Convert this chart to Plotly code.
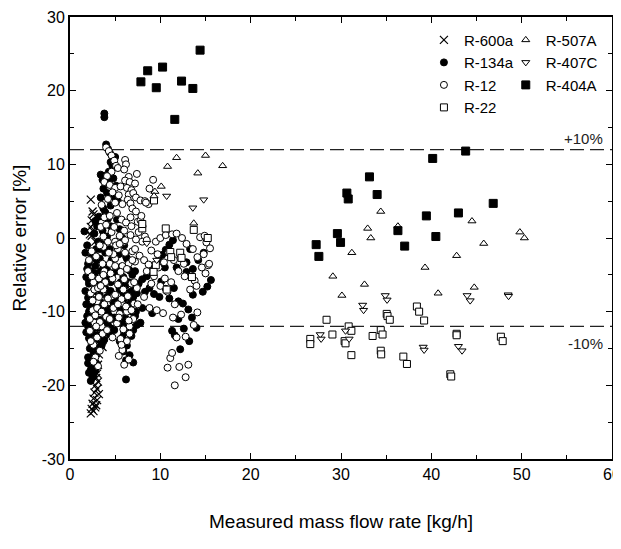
import plotly.graph_objects as go

# ---------------- data ----------------
r600a_x = [2.3, 2.5, 2.6, 2.4, 2.7, 2.3, 2.5, 2.2, 2.4, 2.8, 2.5, 2.3, 2.6, 2.9, 2.7, 3.0, 2.8, 3.1, 2.9, 3.2,
           3.3, 3.0, 3.2, 2.9, 3.1, 2.8, 3.0, 2.9, 3.1, 2.8, 3.0, 2.7, 3.2, 2.6, 3.0, 2.5, 2.9, 2.4, 2.8, 2.3,
           2.6, 3.3, 3.5, 3.6]
r600a_y = [5.2, 3.6, 3.2, 2.4, 2.0, 1.5, 1.0, 0.5, 0.3, -0.5, -2.0, -3.5, -5.0, -6.0, -7.5, -9.0, -10.5, -11.5, -12.5, -13.5,
           -14.3, -15.0, -15.8, -16.5, -17.2, -17.8, -18.4, -19.0, -19.5, -20.0, -20.5, -21.0, -21.2, -21.8, -22.0, -22.5, -22.7, -23.2, -23.0, -23.8,
           -23.5, -12.0, -13.8, -14.8]

r134a_x = [1.6, 1.9, 2.0, 1.8, 2.1, 1.7, 2.0, 1.8, 2.2, 1.9, 2.3, 2.0, 2.4, 2.1, 2.5, 2.2, 2.6, 2.3, 2.0, 2.4,
           2.1, 2.5, 2.3, 2.7, 2.8, 2.9, 2.6, 2.9, 2.7, 3.0, 2.6, 2.9, 2.5, 2.8, 2.4, 2.9, 3.1, 2.7, 3.0, 2.8,
           3.2, 3.3, 3.4, 3.2, 3.5, 3.3, 3.6, 3.8, 3.5, 2.3, 2.2, 1.7,
           3.8, 3.8, 4.0, 4.2, 4.4, 5.0, 4.5, 4.7, 4.3, 3.4, 3.6, 4.8, 5.1, 3.7, 4.1, 4.9, 5.3, 4.5, 3.9, 4.2,
           4.5, 3.6, 4.1, 3.5, 4.4, 3.9, 4.6, 4.0, 4.7, 4.2, 3.8, 4.5, 4.1, 4.8, 4.3, 3.9, 4.6, 4.2, 4.9, 4.4,
           5.2, 5.5, 5.8, 6.0, 5.4, 6.3, 5.7, 6.6, 5.9, 6.9, 6.2, 5.5, 6.7, 6.0, 7.0, 6.4, 5.6, 6.8, 6.1, 7.2,
           5.8, 6.5, 7.4, 6.0, 6.8, 5.5, 6.3, 5.9, 6.6, 6.2, 7.0, 6.2, 7.3, 6.5, 7.2,
           7.6, 8.0, 8.5, 9.0, 9.4, 9.8, 10.2, 10.6, 11.0, 11.4, 8.3, 8.8, 9.3, 9.9, 10.1, 10.6, 11.0, 11.5, 12.0, 12.5,
           13.1, 12.9, 13.6, 12.9, 13.6, 14.7, 15.2, 15.6, 14.2, 14.8, 13.3, 12.2, 13.2, 14.0, 12.6, 11.3, 11.6, 12.0, 13.5, 8.0,
           7.8, 11.8, 12.3, 10.5, 9.1,
           1.7, 1.9, 2.1, 2.3, 2.5, 2.7, 2.2, 2.4, 2.6, 2.8, 3.0, 3.2, 3.4, 2.0, 2.3, 2.6, 2.9, 3.1, 3.3, 3.5,
           1.8, 2.1, 2.4, 2.7, 3.0, 3.3, 3.6, 3.9, 4.2, 4.5, 4.8, 5.1, 5.4, 3.7, 4.0, 4.3, 4.6, 4.9, 5.2, 5.5,
           5.8, 6.1, 6.4, 6.7, 7.0, 5.3, 5.6, 5.9, 6.2, 6.5, 6.8, 7.1, 7.4, 3.4, 3.7, 4.0, 4.3]
r134a_y = [0.9, -1.0, -3.5, -5.3, -6.2, -7.2, -8.1, -9.0, -9.8, -10.6, -11.2, -12.0, -12.8, -13.6, -14.3, -15.0, -15.7, -16.4, -17.0, -17.6,
           -18.3, -18.9, -19.4, -16.0, -14.8, -13.2, -12.0, -10.8, -9.5, -8.3, -7.2, -6.0, -5.0, -3.8, -2.6, -1.5, -0.5, 0.6, 1.6, 2.3,
           2.9, -2.8, -4.5, -6.8, -8.8, -11.0, -12.5, -13.8, -14.6, -4.5, -7.9, -11.5,
           16.9, 16.4, 12.7, 12.1, 11.6, 11.0, 10.3, 9.8, 9.0, 8.6, 7.9, 8.1, 7.1, 6.7, 6.1, 5.6, 5.0, 4.4, 3.5, 2.6,
           1.6, 1.0, 0.2, -0.8, -1.5, -2.0, -3.0, -3.8, -4.8, -5.6, -6.5, -7.2, -8.0, -8.8, -9.6, -10.3, -11.0, -11.8, -12.5, -13.1,
           2.5, 1.2, 0.0, -1.0, -2.2, -2.8, -3.9, -4.4, -5.3, -5.0, -6.4, -7.0, -7.3, -8.2, -8.0, -9.1, -9.7, -10.0, -10.8, -10.6,
           -11.6, -12.1, -11.8, -12.9, -13.3, -14.0, -14.6, -15.4, -15.9, -16.6, -16.9, -19.2, -10.0, -6.0, -4.5,
           -6.2, -5.6, -5.2, -4.6, -3.9, -3.0, -2.3, -1.6, -0.9, -0.3, -7.3, -6.8, -7.6, -8.0, -5.9, -6.9, -8.2, -6.8, -8.6, -8.9,
           -9.7, -4.6, -4.2, -3.3, -7.7, -7.3, -6.6, -5.7, -3.0, -2.0, -1.5, -15.1, -14.0, -12.2, -12.3, -12.6, -13.2, -11.0, -10.8, -9.5,
           -11.5, -4.0, -2.5, -4.0, -10.2,
           -2.0, -4.2, -5.8, -8.5, -10.2, -11.8, -13.0, -14.5, -17.2, -18.0, -15.5, -13.8, -9.8, -16.2, -17.9, -18.6, -17.0, -12.2, -7.8, -5.5,
           -12.8, -10.0, -9.0, -4.8, -3.0, -1.5, -9.5, -11.2, -4.5, -6.0, -2.5, -4.0, -6.5, -4.0, -7.0, -10.5, -12.3, -10.8, -8.5, -11.2,
           -13.5, -8.0, -11.5, -9.0, -12.5, -4.5, -6.0, -7.5, -2.5, -3.0, -8.5, -6.8, -7.5, 5.5, 4.0, 8.5, 7.8]

r12_x = [4.0, 4.3, 4.6, 4.9, 5.1, 5.3, 4.6, 4.1, 3.8, 4.4, 5.0, 5.6, 4.7, 5.4, 4.2, 5.0, 5.8, 6.1, 6.2, 6.0,
         6.5, 6.1, 6.6, 7.2, 7.4, 6.3, 6.8, 6.5, 7.0, 6.4, 6.7, 6.9, 7.3, 7.8, 8.3, 8.7, 8.8, 9.2, 8.4,
         3.5, 3.8, 4.4, 5.2, 5.7, 6.2, 6.8, 7.5, 7.8, 8.0, 7.6, 8.3, 8.0, 7.3, 6.7, 6.0, 5.5, 5.0, 4.6, 4.2,
         3.7, 5.3, 6.1, 6.9, 7.7, 8.2, 5.0, 4.4, 5.8, 6.5, 7.2,
         2.0, 2.6, 3.2, 3.7, 2.3, 3.0, 3.8, 2.5, 3.3, 4.0, 2.7, 3.5, 2.2, 3.0, 2.6, 3.3, 2.8, 3.1, 2.2, 3.6,
         2.9, 2.4, 3.3,
         4.7, 5.3, 6.0, 6.8, 7.4, 5.0, 5.7, 6.4, 7.1, 4.8, 5.5, 6.3, 7.0, 5.2, 5.9, 6.6, 5.6, 6.3, 5.8, 6.5,
         6.0, 5.4, 7.5,
         8.5, 9.5, 10.0, 10.6, 11.3, 11.8, 12.4, 12.9, 13.6, 14.4, 14.9, 15.1, 15.5, 14.1, 14.6, 15.3, 15.0, 13.8, 12.7, 12.0,
         11.5, 10.9, 10.4, 9.7, 9.0, 8.7, 9.3, 10.0, 10.8, 11.6, 10.3, 9.6, 12.3, 11.4, 11.6, 10.8, 11.1, 11.3, 12.1, 12.8,
         13.1, 12.8, 14.1, 11.8, 13.7, 8.2, 8.8,
         2.1, 2.4, 2.7, 3.0, 3.3, 3.6, 3.9, 4.2, 2.3, 2.6, 2.9, 3.2, 3.5, 3.8, 4.1, 4.4, 4.7, 5.0, 5.3, 5.6,
         5.9, 6.2, 6.5, 6.8, 7.1, 4.5, 4.8, 5.1, 5.4, 5.7, 6.0, 6.3, 6.6, 6.9, 7.2, 3.4, 3.7, 4.0, 4.3, 2.5,
         2.8, 3.1, 3.4, 3.7, 4.9, 5.5, 6.1, 6.7, 7.3, 7.9, 8.5, 9.0, 9.8, 10.5, 11.2, 12.6, 13.3, 14.0, 14.8, 15.4]
r12_y = [12.3, 11.8, 11.2, 10.5, 9.8, 9.5, 9.0, 8.4, 7.6, 7.2, 6.8, 7.0, 6.2, 5.8, 5.3, 4.8, 4.6, 10.6, 10.0, 9.3,
         8.3, 7.8, 7.6, 7.4, 8.7, 6.8, 6.5, 5.9, 6.1, 5.2, 4.7, 4.0, 5.5, 5.1, 5.0, 4.6, 6.7, 7.9, 4.8,
         4.5, 2.8, 3.0, 3.4, 2.5, 2.1, 1.6, 2.2, 2.4, 1.6, 0.8, 0.2, -0.5, -0.2, 0.4, 1.0, 0.3, -0.5, 0.8, -0.5,
         -1.2, -1.5, -2.0, -1.8, -2.4, -3.0, -2.8, -3.5, -3.8, -3.5, -3.2,
         -4.5, -6.0, -5.5, -7.0, -7.5, -8.6, -9.0, -9.8, -10.2, -10.7, -11.5, -12.0, -12.6, -13.5, -14.5, -15.3, -16.2, -17.4, -11.0, -3.5,
         -2.5, -1.8, -1.0,
         -5.5, -6.3, -5.6, -6.2, -6.8, -7.7, -8.3, -7.9, -8.9, -9.5, -10.3, -10.0, -11.0, -11.6, -12.4, -12.0, -13.7, -14.0, -15.2, -16.5,
         -17.2, -16.0, -9.0,
         -0.3, -0.5, 0.0, 0.4, 0.5, 0.6, 0.0, -0.8, -1.5, 0.1, 0.3, -0.6, -1.4, -2.6, -4.0, -3.7, -4.8, -5.8, -5.2, -4.5,
         -3.0, -2.0, -3.3, -2.2, -1.7, -3.6, -5.2, -6.5, -7.3, -9.0, -10.2, -9.8, -10.4, -10.8, -20.0, -17.6, -16.3, -15.6, -17.5, -18.9,
         -17.2, -13.4, -10.1, -13.5, -11.8, -8.0, -9.5,
         -3.0, -5.2, -7.0, -9.5, -11.4, -13.0, -6.0, -8.2, -14.0, -16.8, -12.0, -8.0, -10.0, -4.5, -12.5, -11.0, -13.5, -3.8, -9.0, -4.6,
         -7.0, -9.3, -11.2, -9.8, -6.0, -4.8, -2.2, -1.0, -10.8, -14.5, -0.5, -4.2, -13.0, -3.0, -1.5, 1.5, 0.2, 1.8, -2.0, -8.5,
         -10.5, -6.8, -6.5, -5.0, 1.5, -0.8, -0.3, 2.8, 3.6, 3.0, -4.5, -6.2, -4.0, -5.5, -6.0, -3.5, -7.0, -6.5, -2.2, -3.5]

r22_x = [9.3, 10.6, 8.0, 8.0, 11.1, 12.2, 11.2, 12.35, 13.7, 15.25, 13.5, 10.7, 9.5, 9.25,
         26.6, 26.6, 28.4, 29.05, 30.4, 30.5, 30.85, 31.15, 31.15, 33.5, 34.4, 34.6, 34.4, 34.45, 35.06, 35.15,
         35.4, 36.9, 37.3, 38.4, 38.65, 39.2, 42.8, 42.8, 42.1, 42.2, 47.7, 47.9]
r22_y = [5.1, 1.3, 1.3, 1.9, -1.9, -2.0, -2.6, -2.7, 1.1, 0.0, -5.3, -7.0, -3.7, -4.6,
         -13.7, -14.4, -11.1, -13.1, -14.0, -14.3, -12.0, -12.6, -15.9, -13.3, -12.5, -13.1, -15.3, -15.8, -10.3, -10.6,
         -11.1, -16.1, -17.1, -9.3, -10.0, -11.2, -13.0, -13.2, -18.5, -18.8, -13.4, -14.0]

r507a_x = [11.8, 10.8, 15.0, 14.15, 16.9, 10.1, 9.4, 9.3, 13.7,
           29.1, 30.1, 31.2, 32.6, 32.95, 33.3, 34.4, 36.3, 39.3, 40.75, 42.8, 44.5, 44.75, 45.8, 49.8, 50.3]
r507a_y = [10.9, 9.7, 11.2, 8.8, 9.8, 7.0, 6.3, 5.7, 2.0,
           -5.2, -7.8, -2.0, -6.3, 1.3, 0.0, 3.6, 1.6, -4.0, -7.5, -2.4, 2.3, -6.7, -0.75, 0.8, 0.0]

r407c_x = [10.7, 13.6, 14.8, 8.5, 9.6,
           27.7, 27.8, 30.5, 30.9, 32.4, 32.5, 34.9, 35.1, 39.1, 39.2, 43.0, 43.4, 43.96, 44.3, 48.5, 48.55]
r407c_y = [5.7, 4.1, 5.2, -0.7, -3.0,
           -13.1, -13.7, -12.6, -13.7, -9.1, -9.8, -7.8, -8.4, -14.8, -15.2, -14.7, -15.3, -7.8, -8.5, -7.7, -7.9]

r404a_x = [7.85, 8.6, 9.55, 10.25, 11.6, 12.35, 13.6, 14.4,
           27.25, 27.55, 29.6, 29.95, 30.65, 30.8, 33.15, 34.0, 36.3, 37.05, 39.45, 40.15, 40.5, 43.0, 43.8, 46.85]
r404a_y = [21.2, 22.7, 20.4, 23.2, 16.1, 21.3, 20.3, 25.5,
           -0.9, -2.5, 0.6, -0.6, 6.1, 5.3, 8.3, 5.9, 1.0, -1.1, 3.0, 10.8, 0.2, 3.4, 11.8, 4.7]

band_levels = [12, -12]
band_labels = ["+10%", "-10%"]
band_label_y = [13.5, -14.3]

x_ticks = [0, 10, 20, 30, 40, 50, 60]
x_ticklabels = ["0", "10", "20", "30", "40", "50", "60"]
y_ticks = [-30, -20, -10, 0, 10, 20, 30]
y_ticklabels = ["-30", "-20", "-10", "0", "10", "20", "30"]

FONT = "Liberation Sans, Arial, sans-serif"

fig = go.Figure()

def add(name, xs, ys, symbol, fill, size, legend, lw=1):
    fig.add_trace(go.Scatter(
        x=xs, y=ys, mode="markers", name=name, legend=legend,
        marker=dict(symbol=symbol, size=size, color=fill,
                    line=dict(color="black", width=lw)),
    ))

add("R-600a", r600a_x, r600a_y, "x-thin", "black", 8, "legend", 1.2)
add("R-134a", r134a_x, r134a_y, "circle", "black", 7, "legend")
add("R-12", r12_x, r12_y, "circle", "white", 7, "legend")
add("R-22", r22_x, r22_y, "square", "white", 7, "legend")
add("R-507A", r507a_x, r507a_y, "triangle-up", "white", 7, "legend2")
add("R-407C", r407c_x, r407c_y, "triangle-down", "white", 7, "legend2")
add("R-404A", r404a_x, r404a_y, "square", "black", 8, "legend2")

for lvl, lab, ly in zip(band_levels, band_labels, band_label_y):
    fig.add_shape(type="line", xref="paper", x0=0, x1=1, yref="y", y0=lvl, y1=lvl,
                  line=dict(color="#222", width=1.2, dash="14px,6px"), layer="below")
    fig.add_annotation(x=1, xref="paper", xanchor="right", y=ly, yref="y",
                       text=lab, showarrow=False, xshift=-7,
                       font=dict(family=FONT, size=15, color="#222"))

axis_common = dict(
    showgrid=False, zeroline=False, showline=True, linecolor="black", linewidth=2,
    mirror="ticks", ticks="inside", ticklen=6, tickwidth=1.2, tickcolor="black",
    tickfont=dict(family=FONT, size=16, color="black"), automargin=False,
    ticklabeloverflow="allow",
)

fig.update_xaxes(range=[0, 60], tickvals=x_ticks, ticktext=x_ticklabels,
                 minor=dict(dtick=5, ticks="inside", ticklen=4, tickwidth=1, tickcolor="black"),
                 title=dict(text="Measured mass flow rate [kg/h]", standoff=32,
                            font=dict(family=FONT, size=19, color="black")),
                 **axis_common)
fig.update_yaxes(range=[-30, 30], tickvals=y_ticks, ticktext=y_ticklabels,
                 minor=dict(dtick=5, ticks="inside", ticklen=4, tickwidth=1, tickcolor="black"),
                 title=dict(text="Relative error [%]", standoff=10,
                            font=dict(family=FONT, size=19, color="black")),
                 **axis_common)

legend_common = dict(bgcolor="rgba(0,0,0,0)", borderwidth=0,
                     font=dict(family=FONT, size=15, color="black"),
                     xanchor="left", yanchor="top", tracegroupgap=0,
                     itemsizing="trace")
fig.update_layout(
    width=613, height=541,
    margin=dict(l=62, r=9, t=9, b=90, autoexpand=False),
    paper_bgcolor="white", plot_bgcolor="white",
    showlegend=True,
    legend=dict(x=0.653, y=0.985, **legend_common),
    legend2=dict(x=0.804, y=0.985, **legend_common),
)

fig.write_html("out.html")
